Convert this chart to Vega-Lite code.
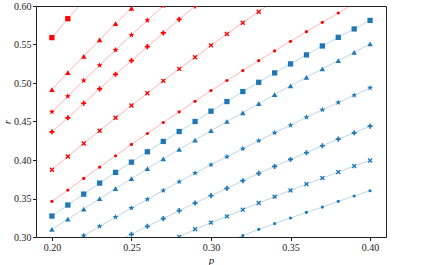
{
  "$schema": "https://vega.github.io/schema/vega-lite/v6.json",
  "autosize": {"type": "none"},
  "padding": {"left": 36, "top": 6, "right": 45, "bottom": 28},
  "width": 350,
  "height": 231,
  "background": "white",
  "config": {
    "font": "Times New Roman, Liberation Serif, serif",
    "view": {"stroke": "#222", "strokeWidth": 1},
    "axis": {
      "labelFont": "Times New Roman, Liberation Serif, serif",
      "titleFont": "Times New Roman, Liberation Serif, serif",
      "labelFontSize": 10,
      "titleFontSize": 11,
      "titleFontStyle": "italic",
      "titleFontWeight": "normal",
      "labelColor": "#222",
      "titleColor": "#222",
      "domainColor": "#222",
      "tickColor": "#222",
      "tickSize": 3.5,
      "labelPadding": 1.5,
      "grid": false
    }
  },
  "data": {"values": [
    {"p":0.20,"r":0.559,"c":"red","m":"square"},
    {"p":0.21,"r":0.5835,"c":"red","m":"square"},
    {"p":0.22,"r":0.607,"c":"red","m":"square"},
    {"p":0.20,"r":0.4915,"c":"red","m":"triangle"},
    {"p":0.21,"r":0.5135,"c":"red","m":"triangle"},
    {"p":0.22,"r":0.5347,"c":"red","m":"triangle"},
    {"p":0.23,"r":0.5559,"c":"red","m":"triangle"},
    {"p":0.24,"r":0.577,"c":"red","m":"triangle"},
    {"p":0.25,"r":0.597,"c":"red","m":"triangle"},
    {"p":0.26,"r":0.618,"c":"red","m":"triangle"},
    {"p":0.20,"r":0.4626,"c":"red","m":"star"},
    {"p":0.21,"r":0.4828,"c":"red","m":"star"},
    {"p":0.22,"r":0.5032,"c":"red","m":"star"},
    {"p":0.23,"r":0.523,"c":"red","m":"star"},
    {"p":0.24,"r":0.543,"c":"red","m":"star"},
    {"p":0.25,"r":0.5624,"c":"red","m":"star"},
    {"p":0.26,"r":0.5813,"c":"red","m":"star"},
    {"p":0.27,"r":0.6004,"c":"red","m":"star"},
    {"p":0.28,"r":0.619,"c":"red","m":"star"},
    {"p":0.20,"r":0.4366,"c":"red","m":"plus"},
    {"p":0.21,"r":0.4548,"c":"red","m":"plus"},
    {"p":0.22,"r":0.4737,"c":"red","m":"plus"},
    {"p":0.23,"r":0.4924,"c":"red","m":"plus"},
    {"p":0.24,"r":0.5113,"c":"red","m":"plus"},
    {"p":0.25,"r":0.529,"c":"red","m":"plus"},
    {"p":0.26,"r":0.5472,"c":"red","m":"plus"},
    {"p":0.27,"r":0.565,"c":"red","m":"plus"},
    {"p":0.28,"r":0.5826,"c":"red","m":"plus"},
    {"p":0.29,"r":0.600,"c":"red","m":"plus"},
    {"p":0.30,"r":0.617,"c":"red","m":"plus"},
    {"p":0.20,"r":0.3874,"c":"red","m":"x"},
    {"p":0.21,"r":0.4046,"c":"red","m":"x"},
    {"p":0.22,"r":0.4215,"c":"red","m":"x"},
    {"p":0.23,"r":0.438,"c":"red","m":"x"},
    {"p":0.24,"r":0.4548,"c":"red","m":"x"},
    {"p":0.25,"r":0.4707,"c":"red","m":"x"},
    {"p":0.26,"r":0.4867,"c":"red","m":"x"},
    {"p":0.27,"r":0.5028,"c":"red","m":"x"},
    {"p":0.28,"r":0.5183,"c":"red","m":"x"},
    {"p":0.29,"r":0.5334,"c":"red","m":"x"},
    {"p":0.30,"r":0.5489,"c":"red","m":"x"},
    {"p":0.31,"r":0.5637,"c":"red","m":"x"},
    {"p":0.32,"r":0.5783,"c":"red","m":"x"},
    {"p":0.33,"r":0.5926,"c":"red","m":"x"},
    {"p":0.34,"r":0.607,"c":"red","m":"x"},
    {"p":0.20,"r":0.3463,"c":"red","m":"dot"},
    {"p":0.21,"r":0.3609,"c":"red","m":"dot"},
    {"p":0.22,"r":0.3761,"c":"red","m":"dot"},
    {"p":0.23,"r":0.3908,"c":"red","m":"dot"},
    {"p":0.24,"r":0.4055,"c":"red","m":"dot"},
    {"p":0.25,"r":0.4202,"c":"red","m":"dot"},
    {"p":0.26,"r":0.4344,"c":"red","m":"dot"},
    {"p":0.27,"r":0.4487,"c":"red","m":"dot"},
    {"p":0.28,"r":0.4626,"c":"red","m":"dot"},
    {"p":0.29,"r":0.4763,"c":"red","m":"dot"},
    {"p":0.30,"r":0.4902,"c":"red","m":"dot"},
    {"p":0.31,"r":0.5032,"c":"red","m":"dot"},
    {"p":0.32,"r":0.5161,"c":"red","m":"dot"},
    {"p":0.33,"r":0.529,"c":"red","m":"dot"},
    {"p":0.34,"r":0.5417,"c":"red","m":"dot"},
    {"p":0.35,"r":0.5541,"c":"red","m":"dot"},
    {"p":0.36,"r":0.5667,"c":"red","m":"dot"},
    {"p":0.37,"r":0.5788,"c":"red","m":"dot"},
    {"p":0.38,"r":0.5909,"c":"red","m":"dot"},
    {"p":0.39,"r":0.603,"c":"red","m":"dot"},
    {"p":0.40,"r":0.615,"c":"red","m":"dot"},
    {"p":0.20,"r":0.3272,"c":"blue","m":"square"},
    {"p":0.21,"r":0.3415,"c":"blue","m":"square"},
    {"p":0.22,"r":0.3557,"c":"blue","m":"square"},
    {"p":0.23,"r":0.37,"c":"blue","m":"square"},
    {"p":0.24,"r":0.3839,"c":"blue","m":"square"},
    {"p":0.25,"r":0.3972,"c":"blue","m":"square"},
    {"p":0.26,"r":0.4107,"c":"blue","m":"square"},
    {"p":0.27,"r":0.4241,"c":"blue","m":"square"},
    {"p":0.28,"r":0.437,"c":"blue","m":"square"},
    {"p":0.29,"r":0.45,"c":"blue","m":"square"},
    {"p":0.30,"r":0.4634,"c":"blue","m":"square"},
    {"p":0.31,"r":0.4759,"c":"blue","m":"square"},
    {"p":0.32,"r":0.4889,"c":"blue","m":"square"},
    {"p":0.33,"r":0.5009,"c":"blue","m":"square"},
    {"p":0.34,"r":0.5131,"c":"blue","m":"square"},
    {"p":0.35,"r":0.5248,"c":"blue","m":"square"},
    {"p":0.36,"r":0.5365,"c":"blue","m":"square"},
    {"p":0.37,"r":0.5481,"c":"blue","m":"square"},
    {"p":0.38,"r":0.5593,"c":"blue","m":"square"},
    {"p":0.39,"r":0.5702,"c":"blue","m":"square"},
    {"p":0.40,"r":0.5813,"c":"blue","m":"square"},
    {"p":0.20,"r":0.31,"c":"blue","m":"triangle"},
    {"p":0.21,"r":0.3233,"c":"blue","m":"triangle"},
    {"p":0.22,"r":0.3363,"c":"blue","m":"triangle"},
    {"p":0.23,"r":0.3498,"c":"blue","m":"triangle"},
    {"p":0.24,"r":0.3627,"c":"blue","m":"triangle"},
    {"p":0.25,"r":0.3757,"c":"blue","m":"triangle"},
    {"p":0.26,"r":0.3887,"c":"blue","m":"triangle"},
    {"p":0.27,"r":0.4016,"c":"blue","m":"triangle"},
    {"p":0.28,"r":0.4137,"c":"blue","m":"triangle"},
    {"p":0.29,"r":0.4258,"c":"blue","m":"triangle"},
    {"p":0.30,"r":0.4383,"c":"blue","m":"triangle"},
    {"p":0.31,"r":0.45,"c":"blue","m":"triangle"},
    {"p":0.32,"r":0.4613,"c":"blue","m":"triangle"},
    {"p":0.33,"r":0.4733,"c":"blue","m":"triangle"},
    {"p":0.34,"r":0.485,"c":"blue","m":"triangle"},
    {"p":0.35,"r":0.4963,"c":"blue","m":"triangle"},
    {"p":0.36,"r":0.5074,"c":"blue","m":"triangle"},
    {"p":0.37,"r":0.5183,"c":"blue","m":"triangle"},
    {"p":0.38,"r":0.529,"c":"blue","m":"triangle"},
    {"p":0.39,"r":0.5398,"c":"blue","m":"triangle"},
    {"p":0.40,"r":0.5507,"c":"blue","m":"triangle"},
    {"p":0.21,"r":0.2897,"c":"blue","m":"star"},
    {"p":0.22,"r":0.3018,"c":"blue","m":"star"},
    {"p":0.23,"r":0.3139,"c":"blue","m":"star"},
    {"p":0.24,"r":0.3259,"c":"blue","m":"star"},
    {"p":0.25,"r":0.3376,"c":"blue","m":"star"},
    {"p":0.26,"r":0.3489,"c":"blue","m":"star"},
    {"p":0.27,"r":0.3605,"c":"blue","m":"star"},
    {"p":0.28,"r":0.3718,"c":"blue","m":"star"},
    {"p":0.29,"r":0.383,"c":"blue","m":"star"},
    {"p":0.30,"r":0.3939,"c":"blue","m":"star"},
    {"p":0.31,"r":0.4042,"c":"blue","m":"star"},
    {"p":0.32,"r":0.4146,"c":"blue","m":"star"},
    {"p":0.33,"r":0.425,"c":"blue","m":"star"},
    {"p":0.34,"r":0.4353,"c":"blue","m":"star"},
    {"p":0.35,"r":0.4452,"c":"blue","m":"star"},
    {"p":0.36,"r":0.4556,"c":"blue","m":"star"},
    {"p":0.37,"r":0.4652,"c":"blue","m":"star"},
    {"p":0.38,"r":0.4746,"c":"blue","m":"star"},
    {"p":0.39,"r":0.4841,"c":"blue","m":"star"},
    {"p":0.40,"r":0.4937,"c":"blue","m":"star"},
    {"p":0.24,"r":0.293,"c":"blue","m":"plus"},
    {"p":0.25,"r":0.3035,"c":"blue","m":"plus"},
    {"p":0.26,"r":0.3139,"c":"blue","m":"plus"},
    {"p":0.27,"r":0.3238,"c":"blue","m":"plus"},
    {"p":0.28,"r":0.3342,"c":"blue","m":"plus"},
    {"p":0.29,"r":0.3441,"c":"blue","m":"plus"},
    {"p":0.30,"r":0.3537,"c":"blue","m":"plus"},
    {"p":0.31,"r":0.3631,"c":"blue","m":"plus"},
    {"p":0.32,"r":0.3731,"c":"blue","m":"plus"},
    {"p":0.33,"r":0.3826,"c":"blue","m":"plus"},
    {"p":0.34,"r":0.3917,"c":"blue","m":"plus"},
    {"p":0.35,"r":0.4007,"c":"blue","m":"plus"},
    {"p":0.36,"r":0.4094,"c":"blue","m":"plus"},
    {"p":0.37,"r":0.4185,"c":"blue","m":"plus"},
    {"p":0.38,"r":0.4271,"c":"blue","m":"plus"},
    {"p":0.39,"r":0.4353,"c":"blue","m":"plus"},
    {"p":0.40,"r":0.4439,"c":"blue","m":"plus"},
    {"p":0.27,"r":0.291,"c":"blue","m":"x"},
    {"p":0.28,"r":0.3001,"c":"blue","m":"x"},
    {"p":0.29,"r":0.31,"c":"blue","m":"x"},
    {"p":0.30,"r":0.3187,"c":"blue","m":"x"},
    {"p":0.31,"r":0.3268,"c":"blue","m":"x"},
    {"p":0.32,"r":0.3355,"c":"blue","m":"x"},
    {"p":0.33,"r":0.3441,"c":"blue","m":"x"},
    {"p":0.34,"r":0.3524,"c":"blue","m":"x"},
    {"p":0.35,"r":0.3605,"c":"blue","m":"x"},
    {"p":0.36,"r":0.3687,"c":"blue","m":"x"},
    {"p":0.37,"r":0.3765,"c":"blue","m":"x"},
    {"p":0.38,"r":0.3843,"c":"blue","m":"x"},
    {"p":0.39,"r":0.3921,"c":"blue","m":"x"},
    {"p":0.40,"r":0.3994,"c":"blue","m":"x"},
    {"p":0.31,"r":0.2946,"c":"blue","m":"dot"},
    {"p":0.32,"r":0.3018,"c":"blue","m":"dot"},
    {"p":0.33,"r":0.31,"c":"blue","m":"dot"},
    {"p":0.34,"r":0.3174,"c":"blue","m":"dot"},
    {"p":0.35,"r":0.3247,"c":"blue","m":"dot"},
    {"p":0.36,"r":0.332,"c":"blue","m":"dot"},
    {"p":0.37,"r":0.3389,"c":"blue","m":"dot"},
    {"p":0.38,"r":0.3463,"c":"blue","m":"dot"},
    {"p":0.39,"r":0.3532,"c":"blue","m":"dot"},
    {"p":0.40,"r":0.3601,"c":"blue","m":"dot"}
  ]},
  "encoding": {
    "x": {
      "field": "p", "type": "quantitative",
      "scale": {"domain": [0.19, 0.41], "nice": false, "zero": false},
      "axis": {"title": "p", "values": [0.2, 0.25, 0.3, 0.35, 0.4], "format": ".2f", "titlePadding": 2, "labelFlush": false}
    },
    "y": {
      "field": "r", "type": "quantitative",
      "scale": {"domain": [0.3, 0.6], "nice": false, "zero": false},
      "axis": {"title": "r", "values": [0.3, 0.35, 0.4, 0.45, 0.5, 0.55, 0.6], "format": ".2f", "titlePadding": 1, "labelFlush": false}
    },
    "color": {
      "field": "c", "type": "nominal",
      "scale": {"domain": ["red", "blue"], "range": ["#ff0000", "#1f77b4"]},
      "legend": null
    }
  },
  "layer": [
    {
      "mark": {"type": "line", "clip": true, "strokeWidth": 1, "opacity": 0.3},
      "encoding": {"detail": {"field": "m", "type": "nominal"}}
    },
    {
      "mark": {"type": "point", "filled": true, "clip": true, "opacity": 1},
      "encoding": {
        "shape": {
          "field": "m", "type": "nominal",
          "scale": {
            "domain": ["square", "triangle", "star", "plus", "x", "dot"],
            "range": [
              "square",
              "triangle-up",
              "M0,-1L0.235,-0.324L0.951,-0.309L0.38,0.124L0.588,0.809L0,0.4L-0.588,0.809L-0.38,0.124L-0.951,-0.309L-0.235,-0.324Z",
              "M-1,-0.33L-0.33,-0.33L-0.33,-1L0.33,-1L0.33,-0.33L1,-0.33L1,0.33L0.33,0.33L0.33,1L-0.33,1L-0.33,0.33L-1,0.33Z",
              "M-1,-0.6L-0.6,-1L0,-0.4L0.6,-1L1,-0.6L0.4,0L1,0.6L0.6,1L0,0.4L-0.6,1L-1,0.6L-0.4,0Z",
              "circle"
            ]
          },
          "legend": null
        },
        "size": {
          "field": "m", "type": "nominal",
          "scale": {
            "type": "ordinal",
            "domain": ["square", "triangle", "star", "plus", "x", "dot"],
            "range": [28, 30, 40, 26, 24, 10]
          },
          "legend": null
        }
      }
    }
  ]
}
